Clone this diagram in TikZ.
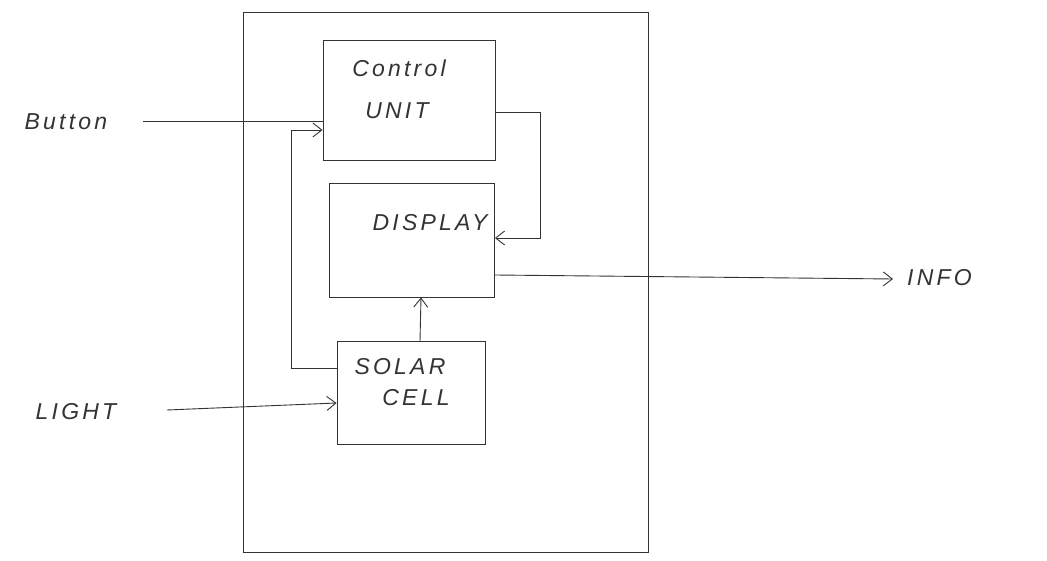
\documentclass[tikz,border=0pt]{standalone}
\usepackage{fontspec}
\setmainfont{Liberation Sans}
\usetikzlibrary{arrows.meta}
\begin{document}
\begin{tikzpicture}[x=1pt,y=-1pt,
  pen/.style={draw=black!80,line width=0.9pt},
  blk/.style={pen,rectangle,inner sep=0pt},
  lbl/.style={font=\fontsize{23}{25}\selectfont\itshape\addfontfeatures{LetterSpace=14},text=black!80,inner sep=0pt},
  arr/.style={pen,-{Straight Barb[length=9pt,width=14pt]}}]
\useasboundingbox (0,0) rectangle (1047,561);
% outer casing
\node[blk,minimum width=405pt,minimum height=540pt] (case) at (446,282) {};
% blocks
\node[blk,minimum width=172pt,minimum height=120pt] (cu) at (409,100) {};
\node[blk,minimum width=165pt,minimum height=114pt] (dp) at (412,240) {};
\node[blk,minimum width=148pt,minimum height=103pt] (sc) at (411,393) {};
% labels
\node[lbl] (cut) at (399,68) {Control};
\node[lbl] (cub) at (397,111) {UNIT};
\node[lbl] (dpt) at (430,223) {DISPLAY};
\node[lbl] (sct) at (400,367) {SOLAR};
\node[lbl] (scb) at (416,398) {CELL};
\node[lbl] (btn) at (66,122) {Button};
\node[lbl] (lgt) at (76,412) {LIGHT};
\node[lbl,anchor=west] (inf) at (907,278) {INFO};
% connectors
\draw[pen] (143,121) coordinate (bs) -- (bs -| cu.west);
\draw[arr] (167,410) coordinate (ls) -- ([yshift=-10pt]sc.west);
\draw[arr] ([xshift=9pt]sc.north) -- ([xshift=9pt]dp.south);
\draw[arr] ([yshift=25pt]sc.west) -- ++(-45,0) |- ([yshift=-30pt]cu.west);
\draw[arr] ([yshift=-12pt]cu.east) -- ++(45,0) |- ([yshift=2pt]dp.east);
\draw[arr] ([yshift=-35pt]dp.east) -- ([xshift=-14pt,yshift=-1pt]inf.west);
\end{tikzpicture}
\end{document}
